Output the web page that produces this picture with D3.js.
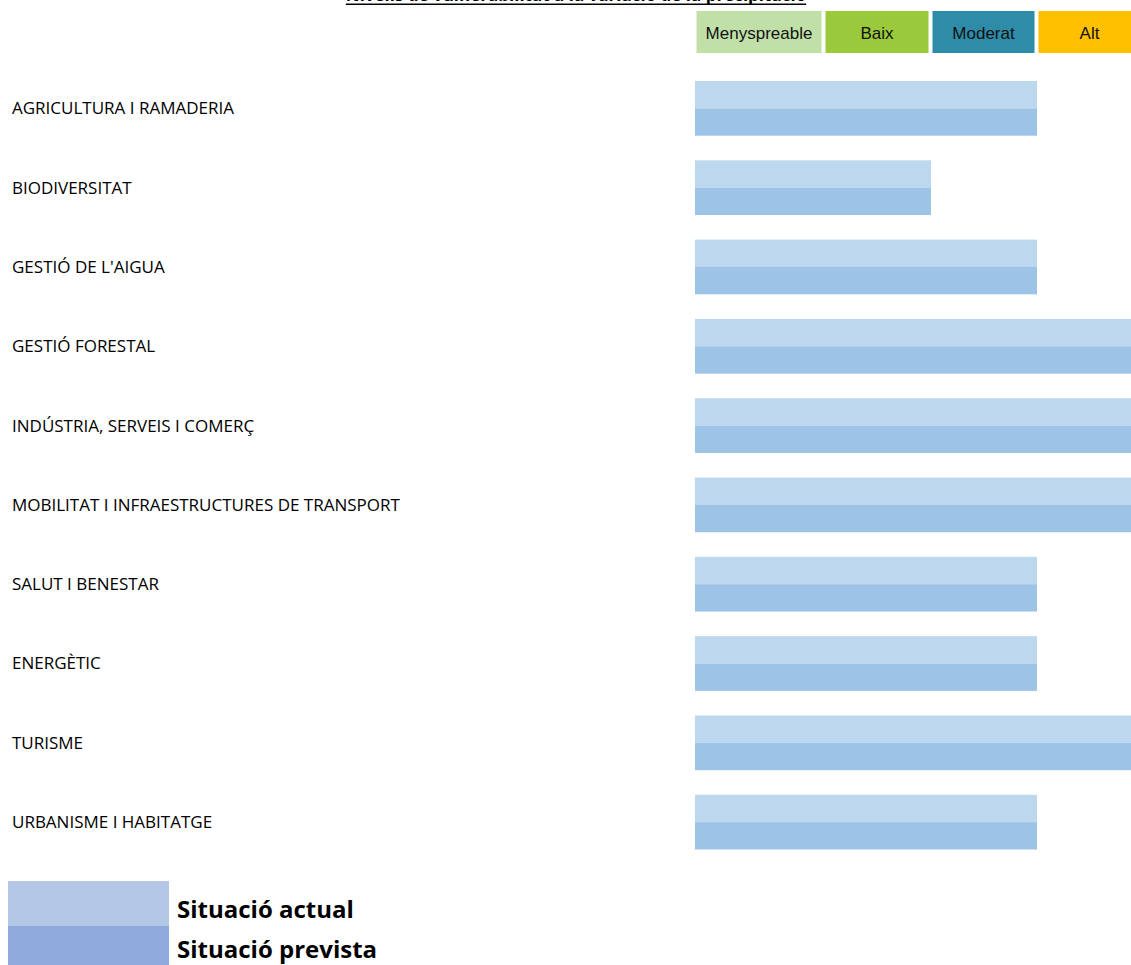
<!DOCTYPE html>
<html>
<head>
<meta charset="utf-8">
<script src="https://cdn.jsdelivr.net/npm/d3@7/dist/d3.min.js"></script>
<style>
  html, body { margin: 0; padding: 0; background: #fff; overflow: hidden; }
  svg { display: block; }
</style>
</head>
<body>
<svg id="chart" width="1131" height="965"></svg>
<script>
// Sectors assessed
const categories = [
  "AGRICULTURA I RAMADERIA",
  "BIODIVERSITAT",
  "GESTIÓ DE L'AIGUA",
  "GESTIÓ FORESTAL",
  "INDÚSTRIA, SERVEIS I COMERÇ",
  "MOBILITAT I INFRAESTRUCTURES DE TRANSPORT",
  "SALUT I BENESTAR",
  "ENERGÈTIC",
  "TURISME",
  "URBANISME I HABITATGE"
];

// Vulnerability level per sector (1 = Menyspreable ... 4 = Alt)
const situacioActual   = [3, 2, 3, 4, 4, 4, 3, 3, 4, 3];
const situacioPrevista = [3, 2, 3, 4, 4, 4, 3, 3, 4, 3];

// Level legend
const levelLabels = ["Menyspreable", "Baix", "Moderat", "Alt"];
const levelColors = ["#C0E0A8", "#9ACA3C", "#2E8CA8", "#FFC000"];

const seriesNames = ["Situació actual", "Situació prevista"];
const title = "Nivells de vulnerabilitat a la variació de la precipitació";

const svg = d3.select("#chart");
const labelFont = "'Open Sans', sans-serif";

// Level axis: each level occupies one legend cell
const x = d3.scaleLinear()
  .domain([0, 1, 2, 3, 4])
  .range([695, 824, 931, 1037, 1143]);

const y = d3.scaleBand()
  .domain(categories)
  .range([81, 849.5])
  .paddingInner(0.31)
  .paddingOuter(0);

const sub = d3.scaleBand()
  .domain(seriesNames)
  .range([0, y.bandwidth()]);

const barColors = d3.scaleOrdinal().domain(seriesNames).range(["#BDD7EE", "#9DC3E6"]);
const legendColors = d3.scaleOrdinal().domain(seriesNames).range(["#B4C7E7", "#8FAADC"]);

// Title (bold, underlined)
const t = svg.append("text")
  .attr("x", 576).attr("y", 1)
  .attr("text-anchor", "middle")
  .attr("font-family", labelFont)
  .attr("font-weight", "bold")
  .attr("font-size", 17)
  .attr("fill", "#000")
  .text(title);
const tb = t.node().getBBox();
svg.append("rect")
  .attr("x", tb.x).attr("y", 3.5)
  .attr("width", tb.width).attr("height", 1.5)
  .attr("fill", "#000");

// Level legend cells
const cells = svg.append("g").selectAll("g")
  .data(levelLabels)
  .join("g");
cells.append("rect")
  .attr("x", (d, i) => x(i) + 1.5)
  .attr("y", 11)
  .attr("width", (d, i) => x(i + 1) - x(i) - 4)
  .attr("height", 42)
  .attr("fill", (d, i) => levelColors[i]);
cells.append("text")
  .attr("x", (d, i) => (x(i) + x(i + 1)) / 2 - 0.5)
  .attr("y", 33)
  .attr("dy", "0.35em")
  .attr("text-anchor", "middle")
  .attr("font-family", "'Liberation Sans', Arial, sans-serif")
  .attr("font-size", 17)
  .attr("fill", "#111")
  .text(d => d);

// Sector labels
svg.append("g").selectAll("text")
  .data(categories)
  .join("text")
  .attr("x", 12)
  .attr("y", d => y(d) + y.bandwidth() / 2)
  .attr("dy", "0.35em")
  .attr("font-family", labelFont)
  .attr("font-size", 17)
  .attr("fill", "#000")
  .text(d => d);

// Bars: both situations stacked vertically within each sector band
const rows = categories.map((c, i) => ({ c, vals: [situacioActual[i], situacioPrevista[i]] }));
const rowG = svg.append("g").selectAll("g")
  .data(rows)
  .join("g")
  .attr("transform", d => `translate(0,${y(d.c)})`);
rowG.selectAll("rect")
  .data(d => d.vals.map((v, j) => ({ s: seriesNames[j], v })))
  .join("rect")
  .attr("x", x(0))
  .attr("y", d => sub(d.s))
  .attr("width", d => x(d.v) - x(0))
  .attr("height", sub.bandwidth())
  .attr("fill", d => barColors(d.s));

// Series legend
const lg = svg.append("g");
lg.selectAll("rect")
  .data(seriesNames)
  .join("rect")
  .attr("x", 8)
  .attr("y", (d, i) => 881 + i * 45)
  .attr("width", 161)
  .attr("height", 45)
  .attr("fill", d => legendColors(d));
lg.selectAll("text")
  .data(seriesNames)
  .join("text")
  .attr("x", 177)
  .attr("y", (d, i) => 918 + i * 40)
  .attr("font-family", labelFont)
  .attr("font-weight", "bold")
  .attr("font-size", 24)
  .attr("fill", "#000")
  .text(d => d);
</script>
</body>
</html>
